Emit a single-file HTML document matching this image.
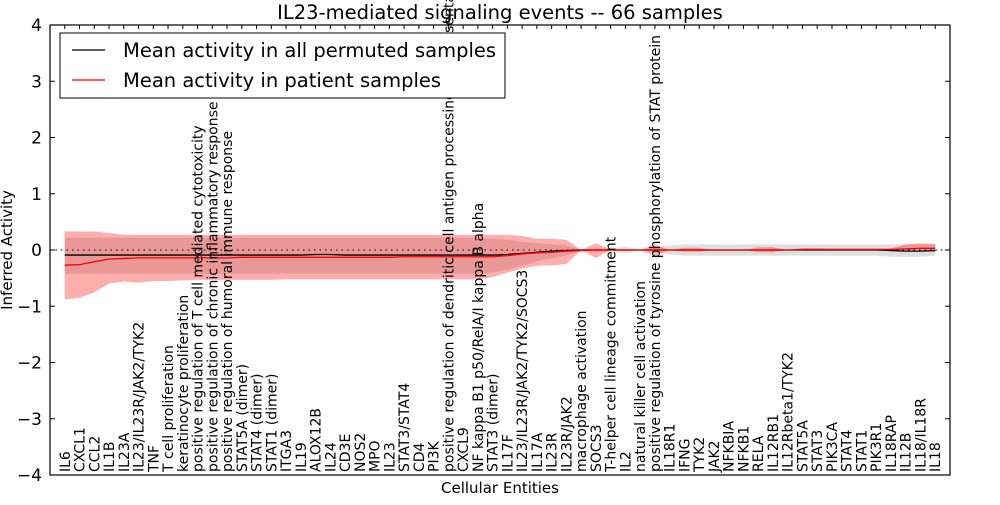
<!DOCTYPE html>
<html><head><meta charset="utf-8"><style>
body{margin:0;background:#fff;width:1000px;height:500px;overflow:hidden}
svg text{font-family:"DejaVu Sans","Liberation Sans",sans-serif}
</style></head><body>
<svg id="c" width="1000" height="500"></svg>
<script>
const categories=["IL6","CXCL1","CCL2","IL1B","IL23A","IL23/IL23R/JAK2/TYK2","TNF","T cell proliferation","keratinocyte proliferation","positive regulation of T cell mediated cytotoxicity","positive regulation of chronic inflammatory response","positive regulation of humoral immune response","STAT5A (dimer)","STAT4 (dimer)","STAT1 (dimer)","ITGA3","IL19","ALOX12B","IL24","CD3E","NOS2","MPO","IL23","STAT3/STAT4","CD4","PI3K","positive regulation of dendritic cell antigen processing and presentation","CXCL9","NF kappa B1 p50/RelA/I kappa B alpha","STAT3 (dimer)","IL17F","IL23/IL23R/JAK2/TYK2/SOCS3","IL17A","IL23R","IL23R/JAK2","macrophage activation","SOCS3","T-helper cell lineage commitment","IL2","natural killer cell activation","positive regulation of tyrosine phosphorylation of STAT protein","IL18R1","IFNG","TYK2","JAK2","NFKBIA","NFKB1","RELA","IL12RB1","IL12Rbeta1/TYK2","STAT5A","STAT3","PIK3CA","STAT4","STAT1","PIK3R1","IL18RAP","IL12B","IL18/IL18R","IL18"];
const redMean=[-0.27,-0.26,-0.21,-0.16,-0.15,-0.14,-0.14,-0.14,-0.14,-0.14,-0.14,-0.14,-0.13,-0.13,-0.13,-0.13,-0.13,-0.13,-0.13,-0.13,-0.13,-0.13,-0.13,-0.12,-0.12,-0.12,-0.12,-0.12,-0.12,-0.12,-0.1,-0.07,-0.05,-0.04,-0.02,-0.01,0,0,0,0,0,0,0,0,0,0,0,0,0,0,0.01,0.01,0.01,0.01,0.01,0.01,0.01,0.02,0.03,0.03];
const redUpper=[0.33,0.33,0.33,0.3,0.27,0.27,0.27,0.27,0.27,0.27,0.27,0.27,0.27,0.27,0.27,0.27,0.27,0.27,0.27,0.27,0.27,0.27,0.27,0.27,0.27,0.27,0.27,0.27,0.27,0.27,0.27,0.25,0.2,0.2,0.18,0,0.12,0,0,0,0.1,0,0.04,0.04,0,0,0,0.05,0.05,0,0.03,0.03,0.02,0.02,0.02,0.02,0.03,0.1,0.12,0.11];
const redLower=[-0.88,-0.85,-0.75,-0.6,-0.56,-0.58,-0.55,-0.55,-0.54,-0.53,-0.53,-0.53,-0.53,-0.53,-0.53,-0.52,-0.52,-0.52,-0.52,-0.52,-0.52,-0.52,-0.52,-0.52,-0.52,-0.52,-0.52,-0.52,-0.52,-0.48,-0.4,-0.33,-0.28,-0.27,-0.25,0,-0.14,0,0,0,-0.1,0,-0.03,-0.03,0,0,0,-0.04,-0.04,0,-0.01,-0.01,0,0,0,0,0,0,0,0];
const grayMean=[-0.09,-0.09,-0.09,-0.09,-0.09,-0.09,-0.09,-0.09,-0.09,-0.09,-0.09,-0.09,-0.09,-0.09,-0.09,-0.09,-0.09,-0.08,-0.08,-0.09,-0.09,-0.09,-0.09,-0.09,-0.09,-0.09,-0.09,-0.09,-0.09,-0.09,-0.08,-0.06,-0.04,-0.02,-0.01,0,0,0,0,0,0,0,0,0,0,0,0,0,0,0,0,0,0,0,0,0,-0.01,-0.02,-0.02,-0.01];
const grayUpper=[0.22,0.22,0.22,0.22,0.22,0.22,0.22,0.22,0.22,0.22,0.22,0.22,0.22,0.22,0.22,0.22,0.22,0.22,0.22,0.22,0.22,0.22,0.22,0.22,0.22,0.22,0.22,0.22,0.22,0.2,0.18,0.15,0.12,0.1,0.08,0,0.03,0.02,0.06,0,0.04,0.08,0.1,0.1,0.1,0.1,0.1,0.1,0.1,0.1,0.1,0.1,0.1,0.1,0.1,0.1,0.1,0.1,0.1,0.1];
const grayLower=[-0.42,-0.42,-0.42,-0.42,-0.42,-0.42,-0.42,-0.42,-0.42,-0.42,-0.42,-0.42,-0.42,-0.42,-0.42,-0.42,-0.42,-0.42,-0.42,-0.42,-0.42,-0.42,-0.42,-0.42,-0.42,-0.42,-0.42,-0.42,-0.42,-0.4,-0.35,-0.28,-0.2,-0.15,-0.1,0,-0.03,-0.02,-0.06,0,-0.04,-0.08,-0.1,-0.1,-0.1,-0.1,-0.1,-0.1,-0.1,-0.1,-0.1,-0.1,-0.1,-0.1,-0.1,-0.1,-0.12,-0.12,-0.12,-0.1];
const yTicks=[-4,-3,-2,-1,0,1,2,3,4];

const L=50,R=950,T=25,B=475;
const X=i=>L+(i+1)*(R-L)/61;
const Y=v=>T+(4-v)*(B-T)/8;
const svg=document.getElementById('c');
const NS='http://www.w3.org/2000/svg';
function mk(tag,attrs,parent){const e=document.createElementNS(NS,tag);for(const k in attrs)e.setAttribute(k,attrs[k]);(parent||svg).appendChild(e);return e;}
function band(up,lo,fill,name){let d='M'+up.map((v,i)=>X(i)+','+Y(v)).join('L');for(let i=lo.length-1;i>=0;i--)d+='L'+X(i)+','+Y(lo[i]);d+='Z';const p=mk('path',{d:d,fill:fill,stroke:'none'});

}
function line(vals,color,name){const p=mk('polyline',{points:vals.map((v,i)=>X(i)+','+Y(v)).join(' '),fill:'none',stroke:color,'stroke-width':1.3});

}
band(grayUpper,grayLower,'rgba(128,128,128,0.25)','permuted-band');
band(redUpper,redLower,'rgba(255,0,0,0.32)','patient-band');
const z=mk('line',{x1:L,x2:R,y1:Y(0),y2:Y(0),stroke:'#000','stroke-dasharray':'1.5,4','stroke-width':1});


line(grayMean,'#000','permuted-mean-line');
line(redMean,'#f00','patient-mean-line');
categories.forEach((c,i)=>{const t=mk('text',{transform:`translate(${X(i)+5},472) rotate(-90)`,'font-size':14,fill:'#000'});t.textContent=c;


mk('line',{x1:X(i),x2:X(i),y1:T,y2:T+4,stroke:'#000'});});
yTicks.forEach(v=>{mk('line',{x1:L,x2:L+5,y1:Y(v),y2:Y(v),stroke:'#000'});mk('line',{x1:R,x2:R-5,y1:Y(v),y2:Y(v),stroke:'#000'});
const t=mk('text',{x:L-8,y:Y(v)+6,'text-anchor':'end','font-size':17});t.textContent=(v<0?'\u2212'+(-v):v);

});
const fr=mk('rect',{x:L,y:T,width:R-L,height:B-T,fill:'none',stroke:'#000','stroke-width':1.2});


</script>
<svg width="1000" height="500" style="position:absolute;left:0;top:0">
<text x="500" y="19" text-anchor="middle" font-size="19.5">IL23-mediated signaling events -- 66 samples</text>
<text x="500" y="493" text-anchor="middle" font-size="15">Cellular Entities</text>
<text transform="translate(12,250) rotate(-90)" text-anchor="middle" font-size="15">Inferred Activity</text>
<g>
<rect x="60" y="33" width="445" height="65" fill="#fff" stroke="#000"/>
<line x1="72" x2="105" y1="50" y2="50" stroke="#000" stroke-width="1.3"/>
<text x="123" y="57" font-size="19.5">Mean activity in all permuted samples</text>
<line x1="72" x2="105" y1="80" y2="80" stroke="#f00" stroke-width="1.3"/>
<text x="123" y="87" font-size="19.5">Mean activity in patient samples</text>
</g>
</svg>
</body></html>
